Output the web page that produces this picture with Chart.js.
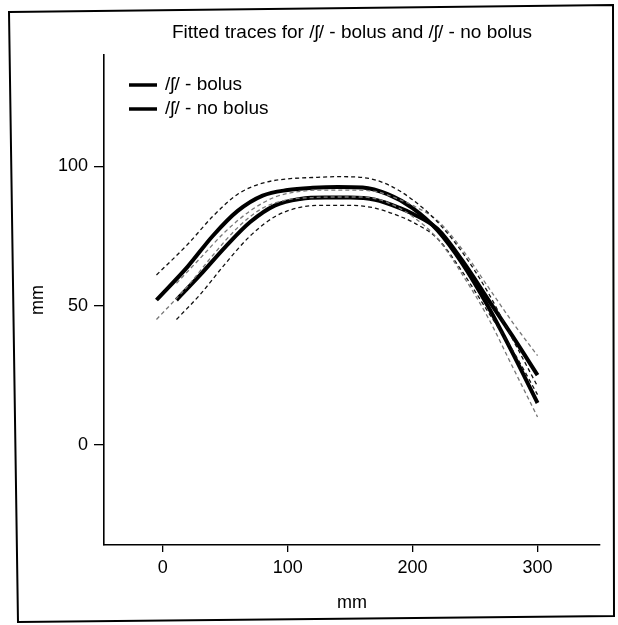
<!DOCTYPE html>
<html>
<head>
<meta charset="utf-8">
<title>Fitted traces</title>
<script src="https://cdn.jsdelivr.net/npm/chart.js@4.4.1/dist/chart.umd.min.js"></script>
<style>
  html, body { margin: 0; padding: 0; background: #fff; }
  #wrap { width: 618px; height: 625px; }
</style>
</head>
<body>
<div id="wrap"><canvas id="chart" width="618" height="625"></canvas></div>
<script>
// Values (x and y both in mm)
const bolusX    = [-5, 20, 40, 60, 80, 100, 120, 140, 160, 180, 200, 220, 240, 260, 280, 300];
const bolusY    = [52, 64, 75, 84, 89.5, 91.5, 92.3, 92.6, 92.4, 90, 85, 77, 65, 50, 33, 15];
const bolusHi   = [61, 72, 82, 90, 94, 95.5, 96, 96.3, 96, 93.5, 88, 80, 69, 55, 38, 21];
const bolusLo   = [45, 57, 68, 78, 85, 88, 88.8, 89, 89, 87, 82, 74, 61, 46, 28, 10];

const noBolusX  = [11, 30, 50, 70, 90, 110, 130, 150, 170, 190, 200, 220, 240, 260, 280, 300];
const noBolusY  = [52, 61, 71, 80, 86, 88.3, 88.8, 88.8, 88, 85, 83, 77.5, 66, 52.5, 39, 25];
const noBolusHi = [58, 67, 76.5, 84, 89, 91, 91.5, 91.5, 91, 88, 86, 80.5, 70, 57, 44, 32];
const noBolusLo = [45, 54, 65, 75, 82, 85.3, 86, 86, 85, 82, 80, 74, 62, 48, 34, 18];

const xTicks = [0, 100, 200, 300];
const yTicks = [0, 50, 100];

const titleText = 'Fitted traces for /ʃ/ - bolus and /ʃ/ - no bolus';
const labels = ['/ʃ/ - bolus', '/ʃ/ - no bolus'];

const FONT = '"Liberation Sans", Arial, Helvetica, sans-serif';

const pts = (xs, ys) => xs.map((x, i) => ({ x, y: ys[i] }));

function band(data, color) {
    return {
        label: '', data, showLine: true, borderColor: color, borderWidth: 1.3,
        borderDash: [4, 3], pointRadius: 0, fill: false,
        cubicInterpolationMode: 'monotone', isBand: true
    };
}
function trace(label, data) {
    return {
        label, data, showLine: true, borderColor: '#000', borderWidth: 4,
        pointRadius: 0, fill: false, cubicInterpolationMode: 'monotone'
    };
}

// frame around the whole figure + legend inside the plot
const decorPlugin = {
    id: 'decor',
    afterDraw(chart) {
        const ctx = chart.ctx;
        ctx.save();
        ctx.strokeStyle = '#000';
        ctx.lineWidth = 2;
        ctx.beginPath();
        ctx.moveTo(9, 12);
        ctx.lineTo(613, 5);
        ctx.lineTo(614, 616);
        ctx.lineTo(18, 622);
        ctx.closePath();
        ctx.stroke();

        // legend
        const main = chart.data.datasets.filter(d => !d.isBand);
        ctx.font = '19px ' + FONT;
        ctx.textBaseline = 'middle';
        ctx.fillStyle = '#000';
        main.forEach((d, i) => {
            const y = 85 + i * 24;
            ctx.lineWidth = 3.5;
            ctx.beginPath();
            ctx.moveTo(129, y);
            ctx.lineTo(157, y);
            ctx.stroke();
            ctx.fillText(d.label, 165, y);
        });
        ctx.restore();
    }
};

const ctx = document.getElementById('chart').getContext('2d');
new Chart(ctx, {
    type: 'scatter',
    data: {
        datasets: [
            band(pts(bolusX, bolusHi), '#111'),
            band(pts(bolusX, bolusLo), '#777'),
            band(pts(noBolusX, noBolusHi), '#777'),
            band(pts(noBolusX, noBolusLo), '#111'),
            trace(labels[0], pts(bolusX, bolusY)),
            trace(labels[1], pts(noBolusX, noBolusY))
        ]
    },
    options: {
        responsive: false,
        animation: false,
        layout: { padding: { left: 0, right: 18, top: 0, bottom: 0 } },
        plugins: {
            legend: { display: false },
            tooltip: { enabled: false },
            title: {
                display: true,
                text: titleText,
                fullSize: false,
                color: '#000',
                font: { family: FONT, size: 19, weight: 'normal', lineHeight: 1.2 },
                padding: { top: 21.6, bottom: 10.6 }
            }
        },
        scales: {
            x: {
                type: 'linear',
                min: -47, max: 350,
                afterBuildTicks: s => { s.ticks = xTicks.map(v => ({ value: v })); },
                afterFit: s => { s.height = 80; },
                grid: { drawOnChartArea: false, drawTicks: true, tickLength: 7, color: '#000', lineWidth: 1.3 },
                border: { display: true, color: '#000', width: 1.6 },
                ticks: { color: '#000', padding: 5, maxRotation: 0, font: { family: FONT, size: 18 } },
                title: {
                    display: true, text: 'mm', color: '#000',
                    font: { family: FONT, size: 18, lineHeight: 1.2 },
                    padding: { top: 0, bottom: 11 }
                }
            },
            y: {
                type: 'linear',
                min: -36, max: 140,
                afterBuildTicks: s => { s.ticks = yTicks.map(v => ({ value: v })); },
                afterFit: s => { s.width = 104; },
                grid: { drawOnChartArea: false, drawTicks: true, tickLength: 10, color: '#000', lineWidth: 1.3 },
                border: { display: true, color: '#000', width: 1.6 },
                ticks: { color: '#000', padding: 6, font: { family: FONT, size: 18 } },
                title: {
                    display: true, text: 'mm', color: '#000',
                    font: { family: FONT, size: 18, lineHeight: 1.2 },
                    padding: { top: 27, bottom: 0 }
                }
            }
        }
    },
    plugins: [decorPlugin]
});
</script>
</body>
</html>
